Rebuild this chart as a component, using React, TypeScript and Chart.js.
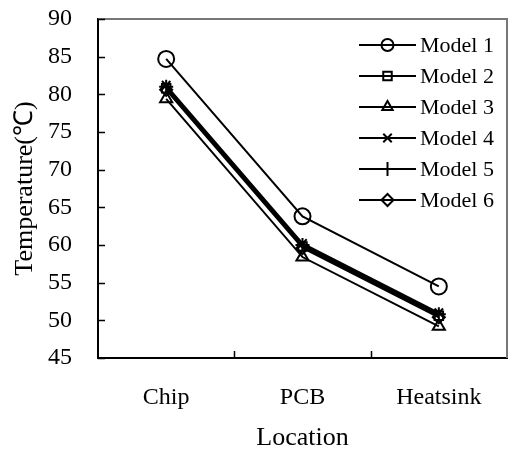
import React, { useEffect, useRef } from 'react';
import { Chart, registerables } from 'chart.js';
import { drawPoint } from 'chart.js/helpers';

Chart.register(...registerables);

const categories = ['Chip', 'PCB', 'Heatsink'];
const seriesNames = ['Model 1', 'Model 2', 'Model 3', 'Model 4', 'Model 5', 'Model 6'];
const model1 = [84.7, 63.8, 54.5];
const model2 = [80.8, 59.8, 50.6];
const model3 = [79.4, 58.4, 49.2];
const model4 = [81.2, 60.2, 51.0];
const model5 = [81.0, 60.0, 50.8];
const model6 = [80.6, 59.6, 50.4];
const seriesValues = [model1, model2, model3, model4, model5, model6];
const pointStyles = ['circle', 'rect', 'triangle', 'crossRot', 'cross', 'rectRot'];
const pointRadii = [8, 6, 7, 6, 7, 6];
const legendRadii = [6, 6, 6, 6, 7, 6];
const yMin = 45;
const yMax = 90;
const yStep = 5;
const xTitle = 'Location';
const yTitle = 'Temperature(℃)';

const FONT = '"Liberation Serif", "Times New Roman", serif';

const framePlugin = {
  id: 'frame',
  afterDraw(chart: any) {
    const { ctx, chartArea } = chart;
    const { left, right, top, bottom } = chartArea;
    const xs = chart.scales.x;
    const ys = chart.scales.y;
    ctx.save();
    ctx.strokeStyle = '#777';
    ctx.lineWidth = 2;
    ctx.beginPath();
    ctx.moveTo(left, top);
    ctx.lineTo(right, top);
    ctx.lineTo(right, bottom);
    ctx.stroke();
    ctx.strokeStyle = '#000';
    ctx.lineWidth = 1.5;
    ctx.beginPath();
    ys.ticks.forEach((t: any) => {
      const py = Math.round(ys.getPixelForValue(t.value)) + 0.5;
      ctx.moveTo(left, py);
      ctx.lineTo(left + 7, py);
    });
    for (let i = 0; i < categories.length - 1; i++) {
      const px = Math.round((xs.getPixelForValue(i) + xs.getPixelForValue(i + 1)) / 2) + 0.5;
      ctx.moveTo(px, bottom);
      ctx.lineTo(px, bottom - 7);
    }
    ctx.stroke();
    const lineX1 = right - 148;
    const lineX2 = right - 91;
    const textX = right - 87;
    const startY = top + 26;
    const rowH = 31;
    ctx.font = `22px ${FONT}`;
    ctx.textBaseline = 'middle';
    ctx.textAlign = 'left';
    chart.data.datasets.forEach((ds: any, i: number) => {
      const y = startY + i * rowH;
      ctx.strokeStyle = '#000';
      ctx.lineWidth = 2;
      ctx.beginPath();
      ctx.moveTo(lineX1, y);
      ctx.lineTo(lineX2, y);
      ctx.stroke();
      ctx.fillStyle = 'rgba(0,0,0,0)';
      drawPoint(ctx, { pointStyle: ds.pointStyle, radius: legendRadii[i], rotation: 0, borderWidth: 2 } as any, (lineX1 + lineX2) / 2, y);
      ctx.fillStyle = '#000';
      ctx.fillText(ds.label, textX, y + 1);
    });
    ctx.restore();
  },
};

export default function App() {
  const ref = useRef<HTMLCanvasElement | null>(null);
  useEffect(() => {
    if (!ref.current) return;
    const chart = new Chart(ref.current, {
      type: 'line',
      data: {
        labels: categories,
        datasets: seriesValues.map((vals, i) => ({
          label: seriesNames[i],
          data: vals,
          borderColor: '#000',
          borderWidth: 2,
          backgroundColor: 'rgba(0,0,0,0)',
          pointStyle: pointStyles[i] as any,
          pointRadius: pointRadii[i],
          pointBorderWidth: 2,
          pointBorderColor: '#000',
          pointBackgroundColor: 'rgba(0,0,0,0)',
          fill: false,
          tension: 0,
        })),
      },
      options: {
        animation: false,
        responsive: false,
        maintainAspectRatio: false,
        layout: { autoPadding: false, padding: { top: 19, right: 2, left: 0, bottom: 0 } },
        plugins: {
          legend: { display: false },
          tooltip: { enabled: false },
        },
        scales: {
          x: {
            type: 'category',
            offset: true,
            grid: { display: false, drawTicks: true, tickLength: 25 },
            border: { display: true, color: '#000', width: 2 },
            ticks: { color: '#000', font: { family: FONT, size: 24 }, padding: 0, maxRotation: 0 },
            title: { display: true, text: xTitle, color: '#000', font: { family: FONT, size: 26, lineHeight: 1 }, padding: { top: 0, bottom: 0 } },
            afterFit: (s: any) => { s.height = 93; s.paddingLeft = 0; s.paddingRight = 0; },
          },
          y: {
            min: yMin,
            max: yMax,
            grid: { display: false, drawTicks: true, tickLength: 26 },
            border: { display: true, color: '#000', width: 2 },
            ticks: { stepSize: yStep, color: '#000', font: { family: FONT, size: 24 }, padding: 0 },
            title: { display: true, text: yTitle, color: '#000', font: { family: FONT, size: 26, lineHeight: 1 }, padding: { top: 12, bottom: 0 } },
            afterFit: (s: any) => { s.width = 98; s.paddingTop = 0; s.paddingBottom = 0; },
          },
        },
      },
      plugins: [framePlugin],
    });
    return () => chart.destroy();
  }, []);
  return (
    <div style={{ position: 'absolute', left: 0, top: 0, width: 509, height: 451, background: '#fff' }}>
      <canvas ref={ref} width={509} height={451} style={{ width: 509, height: 451 }} />
    </div>
  );
}
